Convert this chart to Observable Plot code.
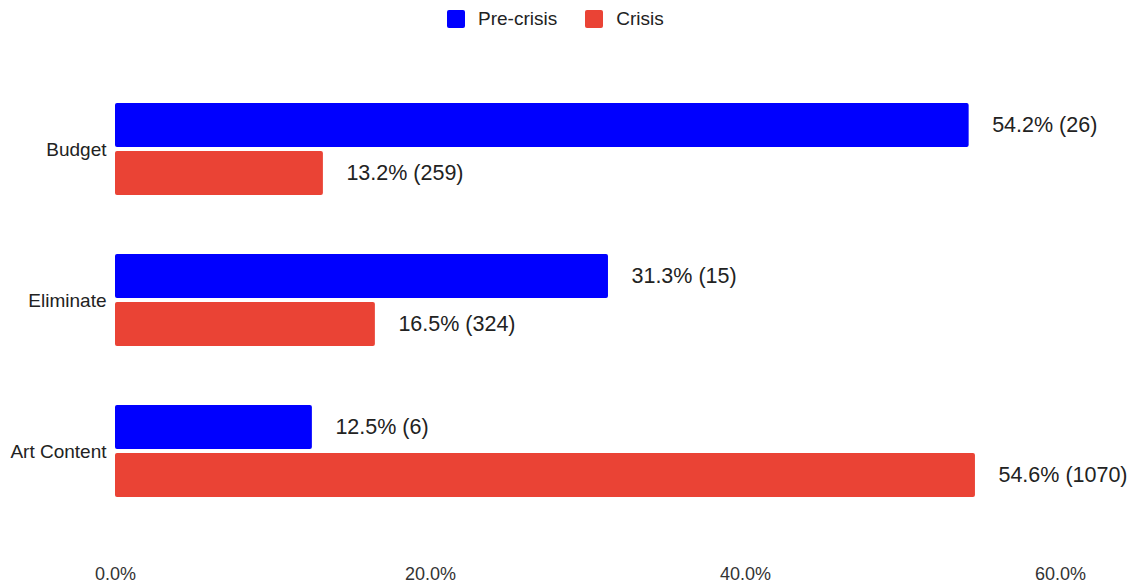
<!DOCTYPE html>
<html>
<head>
<meta charset="utf-8">
<script src="https://cdn.jsdelivr.net/npm/d3@7"></script>
<script src="https://cdn.jsdelivr.net/npm/@observablehq/plot@0.6"></script>
<style>
  html, body { margin: 0; padding: 0; background: #fff; }
  body { width: 1142px; height: 583px; overflow: hidden; font-family: "Liberation Sans", Arial, sans-serif; }
  #legend { height: 38px; display: flex; align-items: center; padding-left: 447px; font-size: 19px; color: #222; box-sizing: border-box; }
  .sw { width: 18px; height: 18px; border-radius: 2px; margin-right: 13px; }
  .item { display: flex; align-items: center; margin-right: 28px; }
  #chart svg { display: block; }
</style>
</head>
<body>
<div id="legend"></div>
<div id="chart"></div>
<script>
const categories = ["Budget", "Eliminate", "Art Content"];
const seriesNames = ["Pre-crisis", "Crisis"];
const preCrisisPct = [54.2, 31.3, 12.5];
const preCrisisN = [26, 15, 6];
const crisisPct = [13.2, 16.5, 54.6];
const crisisN = [259, 324, 1070];
const xTicks = [0, 20, 40, 60];
const seriesColors = ["#0000ff", "#ea4335"];

const data = categories.flatMap((c, i) => [
  {category: c, series: seriesNames[0], pct: preCrisisPct[i], n: preCrisisN[i]},
  {category: c, series: seriesNames[1], pct: crisisPct[i], n: crisisN[i]}
]);

const legend = document.getElementById("legend");
seriesNames.forEach((s, i) => {
  const item = document.createElement("div");
  item.className = "item";
  const sw = document.createElement("div");
  sw.className = "sw";
  sw.style.background = seriesColors[i];
  const t = document.createElement("span");
  t.textContent = s;
  item.appendChild(sw);
  item.appendChild(t);
  legend.appendChild(item);
});

const fmt = d => d.toFixed(1) + "%";

const chart = Plot.plot({
  width: 1142,
  height: 545,
  marginLeft: 115,
  marginRight: 82,
  marginTop: 36,
  marginBottom: 56,
  style: {fontFamily: "'Liberation Sans', Arial, sans-serif", fontSize: "18px", color: "#222", background: "white"},
  x: {domain: [0, 60], label: null},
  y: {domain: seriesNames, axis: null, paddingInner: 0.0825, paddingOuter: 0.598},
  fy: {domain: categories, padding: 0, label: null, axis: null},
  color: {domain: seriesNames, range: seriesColors},
  marks: [
    Plot.barX(data, {x: "pct", y: "series", fy: "category", fill: "series", rx: 2}),
    Plot.text(data, {
      x: "pct", y: "series", fy: "category",
      text: d => `${d.pct.toFixed(1)}% (${d.n})`,
      textAnchor: "start", dx: 23, fontSize: 21.5, fill: "#222"
    }),
    Plot.axisX({ticks: xTicks, tickFormat: fmt, tickSize: 0, tickPadding: 40, fontSize: 18, label: null, anchor: "bottom", fill: "#333"}),
    Plot.axisFy({anchor: "left", tickSize: 0, tickPadding: 9, fontSize: 19, label: null, fill: "#222"})
  ]
});
document.getElementById("chart").appendChild(chart);
</script>
</body>
</html>
